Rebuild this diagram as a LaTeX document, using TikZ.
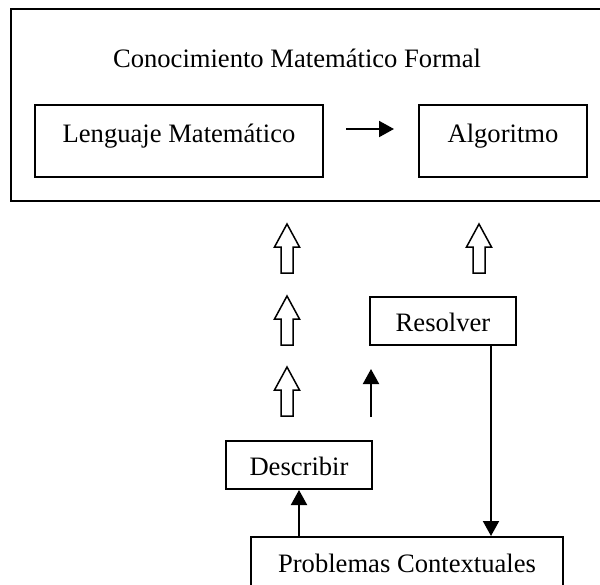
\documentclass[tikz,border=0pt]{standalone}
\usepackage{fontspec}
\setmainfont{Liberation Serif}
\usetikzlibrary{arrows.meta}

\begin{document}
\begin{tikzpicture}[x=0.5pt,y=-0.5pt,
  lbl/.style={font=\fontsize{13.3}{16}\selectfont},
  frame/.style={draw, line width=1.1pt, inner sep=0pt},
  box/.style={draw, line width=1pt, inner sep=0pt, lbl},
  link/.style={line width=1pt, -{Triangle[length=7.5pt,width=8pt]}},
  hollowline/.style={draw, line width=0.75pt, fill=white, line join=miter},
  hollow/.pic={\path[hollowline] (0,0) -- (12.5,23) -- (6,23) -- (6,49)
      -- (-6,49) -- (-6,23) -- (-12.5,23) -- cycle;}
]
\useasboundingbox (0,0) rectangle (600,584);
\clip (0,0) rectangle (600,584);

% formal knowledge block
\node[frame, minimum width=297.5pt, minimum height=96pt] (cmf) at (308.5,105) {};
\node[lbl, inner sep=0pt, anchor=base] (title) at (297,67)
  {Conocimiento Matemático Formal};
\node[box, minimum width=144pt, minimum height=36pt,
      text height=5pt, text depth=4pt] (lm) at (179,141) {Lenguaje Matemático};
\node[box, minimum width=84pt, minimum height=36pt,
      text height=5pt, text depth=4pt] (alg) at (503,141) {Algoritmo};

% lower boxes
\node[box, minimum width=73pt, minimum height=24pt,
      text height=14pt, text depth=4pt] (res) at (443,321) {Resolver};
\node[box, minimum width=73pt, minimum height=24pt,
      text height=14pt, text depth=4pt] (des) at (299,465) {Describir};
\node[box, minimum width=156pt, minimum height=30.5pt,
      text height=8.5pt, text depth=4pt] (pc) at (407,567.5) {Problemas Contextuales};

% arrows
\coordinate (a1) at (346,129);
\coordinate (a2) at (394,129);
\draw[link] (a1) -- (a2);

\coordinate (t1) at (371,417);
\coordinate (t2) at (371,369);
\draw[link] (t1) -- (t2);

\coordinate (dx) at (299,0);
\draw[link] (dx |- pc.north) -- (dx |- des.south);

\coordinate (rx) at (491,0);
\draw[link] (rx |- res.south) -- (rx |- pc.north);

% hollow block arrows
\pic at (287,224) {hollow};
\pic at (287,296) {hollow};
\pic at (287,367) {hollow};
\pic at (479,224) {hollow};
\end{tikzpicture}
\end{document}
